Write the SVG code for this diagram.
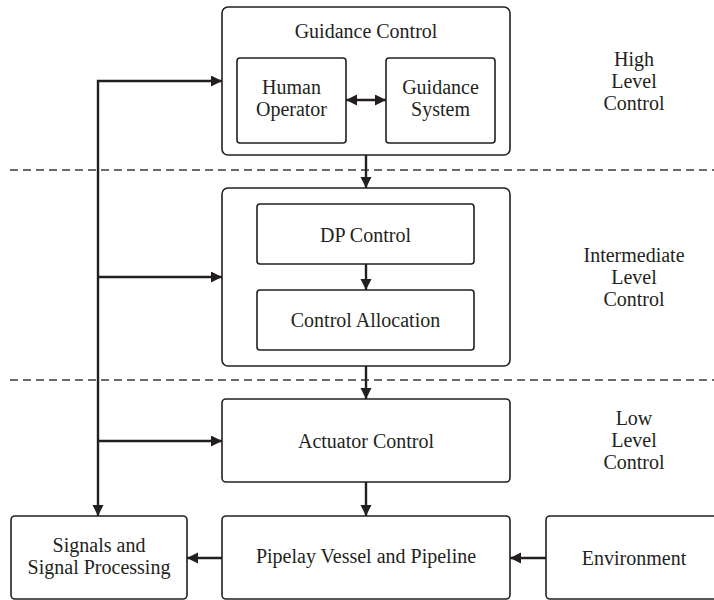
<svg xmlns="http://www.w3.org/2000/svg" width="714" height="600" viewBox="0 0 714 600">
  <style>
    .box { fill: #fff; stroke: #231f20; stroke-width: 1.6; }
    .wire { fill: none; stroke: #231f20; stroke-width: 2.4; }
    .sep { fill: none; stroke: #3a3a3a; stroke-width: 1.4; stroke-dasharray: 8 5; }
    text { font-family: "Liberation Serif", "Times New Roman", serif; font-size: 20px; fill: #231f20; text-anchor: middle; }
  </style>
  <defs>
    <marker id="arrow" markerUnits="userSpaceOnUse" markerWidth="12" markerHeight="12" refX="11" refY="5.5" orient="auto-start-reverse">
      <path d="M0,0 L11,5.5 L0,11 Z" fill="#231f20"/>
    </marker>
  </defs>

  <rect width="714" height="600" fill="#fff"/>

  <!-- level separators -->
  <line class="sep" x1="10" y1="170" x2="714" y2="170"/>
  <line class="sep" x1="10" y1="380" x2="714" y2="380"/>

  <!-- level labels -->
  <g id="label-high">
    <text x="634" y="66">High</text>
    <text x="634" y="88">Level</text>
    <text x="634" y="110">Control</text>
  </g>
  <g id="label-intermediate">
    <text x="634" y="262">Intermediate</text>
    <text x="634" y="284">Level</text>
    <text x="634" y="306">Control</text>
  </g>
  <g id="label-low">
    <text x="634" y="425">Low</text>
    <text x="634" y="447">Level</text>
    <text x="634" y="469">Control</text>
  </g>

  <!-- high level -->
  <g id="guidance-control">
    <rect class="box" x="222" y="7" width="288" height="148" rx="6"/>
    <text x="366" y="38">Guidance Control</text>
  </g>
  <g id="human-operator">
    <rect class="box" x="237" y="58" width="109" height="85" rx="3"/>
    <text x="291.5" y="94">Human</text>
    <text x="291.5" y="116">Operator</text>
  </g>
  <g id="guidance-system">
    <rect class="box" x="386" y="58" width="109" height="85" rx="3"/>
    <text x="440.5" y="94">Guidance</text>
    <text x="440.5" y="116">System</text>
  </g>

  <!-- intermediate level -->
  <g id="intermediate-control">
    <rect class="box" x="222" y="188" width="288" height="178" rx="6"/>
  </g>
  <g id="dp-control">
    <rect class="box" x="257" y="204" width="217" height="60" rx="3"/>
    <text x="365.5" y="242">DP Control</text>
  </g>
  <g id="control-allocation">
    <rect class="box" x="257" y="290" width="217" height="60" rx="3"/>
    <text x="365.5" y="327">Control Allocation</text>
  </g>

  <!-- low level -->
  <g id="actuator-control">
    <rect class="box" x="222" y="399" width="288" height="83" rx="4"/>
    <text x="366" y="448">Actuator Control</text>
  </g>
  <g id="pipelay-vessel">
    <rect class="box" x="222" y="516" width="288" height="83" rx="4"/>
    <text x="366" y="563">Pipelay Vessel and Pipeline</text>
  </g>
  <g id="signals">
    <rect class="box" x="11" y="516" width="176" height="83" rx="4"/>
    <text x="99" y="552">Signals and</text>
    <text x="99" y="574">Signal Processing</text>
  </g>
  <g id="environment">
    <rect class="box" x="546" y="516" width="176" height="83" rx="4"/>
    <text x="634" y="565">Environment</text>
  </g>

  <!-- connectors -->
  <g id="connectors">
    <line class="wire" x1="346" y1="100" x2="386" y2="100" marker-start="url(#arrow)" marker-end="url(#arrow)"/>
    <line class="wire" x1="366" y1="155" x2="366" y2="188" marker-end="url(#arrow)"/>
    <line class="wire" x1="366" y1="264" x2="366" y2="290" marker-end="url(#arrow)"/>
    <line class="wire" x1="366" y1="366" x2="366" y2="399" marker-end="url(#arrow)"/>
    <line class="wire" x1="366" y1="482" x2="366" y2="516" marker-end="url(#arrow)"/>
    <line class="wire" x1="222" y1="558" x2="187" y2="558" marker-end="url(#arrow)"/>
    <line class="wire" x1="546" y1="558" x2="510" y2="558" marker-end="url(#arrow)"/>
    <path class="wire" d="M98,516 V81 H222" marker-start="url(#arrow)" marker-end="url(#arrow)"/>
    <line class="wire" x1="98" y1="277" x2="222" y2="277" marker-end="url(#arrow)"/>
    <line class="wire" x1="98" y1="441" x2="222" y2="441" marker-end="url(#arrow)"/>
  </g>
</svg>
